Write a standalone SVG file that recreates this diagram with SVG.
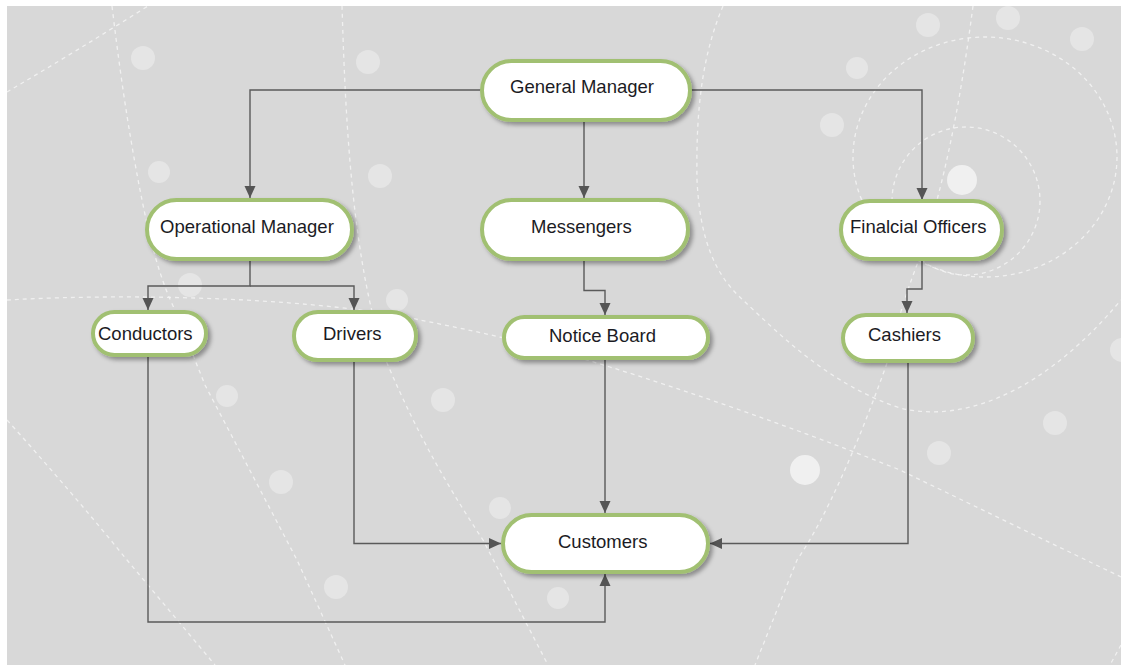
<svg xmlns="http://www.w3.org/2000/svg" width="1121" height="665" viewBox="0 0 1121 665">
  <style>
    .bg { fill: #d8d8d8; }
    .dot { fill: #e5e5e5; }
    .dot-hi { fill: #f0f0f0; }
    .trail { fill: none; stroke: #f4f4f4; stroke-width: 1.3; stroke-dasharray: 4 4; opacity: 0.85; }
    .node rect { fill: #ffffff; stroke: #a1c072; stroke-width: 4; filter: url(#shadow); }
    .node text { font-family: "Liberation Sans", Arial, sans-serif; font-size: 18.5px; fill: #1b1b24; }
    .edge { fill: none; stroke: #5a5a5a; stroke-width: 1.4; marker-end: url(#arrow); }
  </style>
  <defs>
    <filter id="shadow" x="-10%" y="-20%" width="125%" height="150%">
      <feDropShadow dx="3" dy="3" stdDeviation="2" flood-color="#000000" flood-opacity="0.35"/>
    </filter>
    <marker id="arrow" markerUnits="userSpaceOnUse" markerWidth="12" markerHeight="12" refX="12" refY="6" orient="auto">
      <path d="M0,0.5 L12,6 L0,11.5 Z" fill="#555555"/>
    </marker>
    <clipPath id="panel">
      <rect x="7" y="6" width="1114" height="659"/>
    </clipPath>
  </defs>

  <!-- page and panel -->
  <rect width="1121" height="665" fill="#ffffff"/>
  <rect class="bg" x="7" y="6" width="1114" height="659"/>

  <!-- decorative background: dotted trails and soft dots -->
  <g id="backdrop" clip-path="url(#panel)">
    <path class="trail" d="M7,92 Q75,52 148,6"/>
    <path class="trail" d="M112,6 C122,90 132,150 142,200 C150,240 160,280 175,310 C185,335 195,360 205,385 L297,560 L345,665"/>
    <path class="trail" d="M342,6 C345,100 350,260 387,363 C420,440 450,490 483,540 L548,665"/>
    <path class="trail" d="M723,6 C700,60 696,120 697,180 C700,240 715,275 743,300 C780,335 830,385 900,408 C970,425 1050,385 1121,300"/>
    <ellipse class="trail" cx="985" cy="157" rx="132" ry="120"/>
    <circle class="trail" cx="966" cy="201" r="74"/>
    <path class="trail" d="M973,6 C962,90 945,190 915,270 C900,310 893,340 887,363 C860,440 825,520 797,560 L755,665"/>
    <path class="trail" d="M7,300 C150,292 330,300 420,320 C480,332 540,345 610,367 C700,395 800,430 900,470 L1121,577"/>
    <path class="trail" d="M7,420 Q70,490 127,560 L215,665"/>
    <path class="trail" d="M1121,645 L1110,665"/>

    <circle class="dot" cx="143" cy="58" r="12"/>
    <circle class="dot" cx="368" cy="62" r="12"/>
    <circle class="dot" cx="159" cy="172" r="11"/>
    <circle class="dot" cx="380" cy="176" r="12"/>
    <circle class="dot" cx="190" cy="285" r="12"/>
    <circle class="dot" cx="397" cy="300" r="11"/>
    <circle class="dot" cx="227" cy="396" r="11"/>
    <circle class="dot" cx="281" cy="482" r="12"/>
    <circle class="dot" cx="443" cy="400" r="12"/>
    <circle class="dot" cx="336" cy="587" r="12"/>
    <circle class="dot" cx="500" cy="508" r="11"/>
    <circle class="dot" cx="558" cy="598" r="11"/>
    <circle class="dot-hi" cx="805" cy="470" r="15"/>
    <circle class="dot" cx="857" cy="68" r="11"/>
    <circle class="dot" cx="832" cy="125" r="12"/>
    <circle class="dot" cx="928" cy="25" r="12"/>
    <circle class="dot" cx="1008" cy="18" r="12"/>
    <circle class="dot" cx="1082" cy="39" r="12"/>
    <circle class="dot-hi" cx="962" cy="180" r="15"/>
    <circle class="dot" cx="1055" cy="423" r="12"/>
    <circle class="dot" cx="939" cy="453" r="12"/>
    <circle class="dot" cx="1122" cy="350" r="12"/>
  </g>

  <!-- connectors -->
  <g id="connectors">
    <path class="edge" d="M481,90 H250 V198"/>
    <path class="edge" d="M584,122 V198"/>
    <path class="edge" d="M691,90 H922 V200"/>
    <path class="edge" d="M250,261 V286 H148 V310"/>
    <path class="edge" d="M250,286 H354 V310"/>
    <path class="edge" d="M584,261 V290.5 H605 V315"/>
    <path class="edge" d="M922,260 V289 H907 V313"/>
    <path class="edge" d="M605,360 V513"/>
    <path class="edge" d="M354,362 V543.5 H501"/>
    <path class="edge" d="M148,357 V622 H605 V574"/>
    <path class="edge" d="M908,363 V543.5 H710"/>
  </g>

  <!-- nodes -->
  <g id="general-manager" class="node">
    <rect x="482" y="61" width="208" height="59" rx="29.5"/>
    <text x="510" y="93">General Manager</text>
  </g>
  <g id="operational-manager" class="node">
    <rect x="147" y="200" width="205" height="59" rx="29.5"/>
    <text x="160" y="233">Operational Manager</text>
  </g>
  <g id="messengers" class="node">
    <rect x="482" y="200" width="206" height="59" rx="29.5"/>
    <text x="531" y="233">Messengers</text>
  </g>
  <g id="financial-officers" class="node">
    <rect x="841" y="201" width="161" height="58" rx="29"/>
    <text x="850" y="233">Finalcial Officers</text>
  </g>
  <g id="conductors" class="node">
    <rect x="93" y="312" width="113" height="43" rx="21.5"/>
    <text x="98" y="339.5">Conductors</text>
  </g>
  <g id="drivers" class="node">
    <rect x="294" y="312" width="122" height="48" rx="24"/>
    <text x="323" y="340">Drivers</text>
  </g>
  <g id="notice-board" class="node">
    <rect x="504" y="317" width="204" height="41" rx="20.5"/>
    <text x="549" y="342">Notice Board</text>
  </g>
  <g id="cashiers" class="node">
    <rect x="843" y="315" width="130" height="46" rx="23"/>
    <text x="868" y="341">Cashiers</text>
  </g>
  <g id="customers" class="node">
    <rect x="503" y="515" width="205" height="57" rx="28.5"/>
    <text x="558" y="547.5">Customers</text>
  </g>
</svg>
